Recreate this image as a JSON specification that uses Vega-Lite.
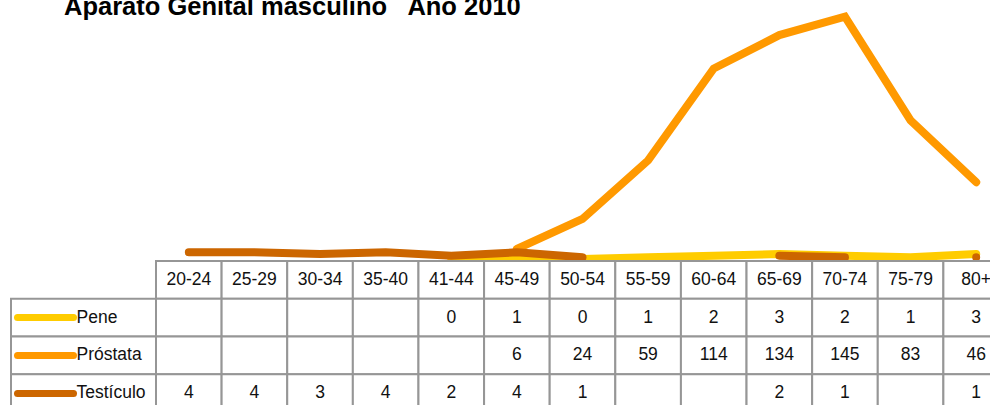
{
  "$schema": "https://vega.github.io/schema/vega-lite/v6.json",
  "padding": {"left": 10, "top": -6, "right": 0, "bottom": 0},
  "config": {"view": {"stroke": null}, "font": "Liberation Sans"},
  "title": {"text": "Aparato Genital masculino\u00a0\u00a0 Año 2010", "anchor": "start", "frame": "group", "font": "Liberation Sans", "fontSize": 25.5, "fontWeight": "bold", "color": "#000000", "dx": 53, "dy": 40, "offset": 0, "baseline": "alphabetic"},
  "datasets": {
    "cancer": [
      {"age": "20-24", "series": "Pene", "value": null},
      {"age": "25-29", "series": "Pene", "value": null},
      {"age": "30-34", "series": "Pene", "value": null},
      {"age": "35-40", "series": "Pene", "value": null},
      {"age": "41-44", "series": "Pene", "value": 0},
      {"age": "45-49", "series": "Pene", "value": 1},
      {"age": "50-54", "series": "Pene", "value": 0},
      {"age": "55-59", "series": "Pene", "value": 1},
      {"age": "60-64", "series": "Pene", "value": 2},
      {"age": "65-69", "series": "Pene", "value": 3},
      {"age": "70-74", "series": "Pene", "value": 2},
      {"age": "75-79", "series": "Pene", "value": 1},
      {"age": "80+", "series": "Pene", "value": 3},
      {"age": "20-24", "series": "Próstata", "value": null},
      {"age": "25-29", "series": "Próstata", "value": null},
      {"age": "30-34", "series": "Próstata", "value": null},
      {"age": "35-40", "series": "Próstata", "value": null},
      {"age": "41-44", "series": "Próstata", "value": null},
      {"age": "45-49", "series": "Próstata", "value": 6},
      {"age": "50-54", "series": "Próstata", "value": 24},
      {"age": "55-59", "series": "Próstata", "value": 59},
      {"age": "60-64", "series": "Próstata", "value": 114},
      {"age": "65-69", "series": "Próstata", "value": 134},
      {"age": "70-74", "series": "Próstata", "value": 145},
      {"age": "75-79", "series": "Próstata", "value": 83},
      {"age": "80+", "series": "Próstata", "value": 46},
      {"age": "20-24", "series": "Testículo", "value": 4},
      {"age": "25-29", "series": "Testículo", "value": 4},
      {"age": "30-34", "series": "Testículo", "value": 3},
      {"age": "35-40", "series": "Testículo", "value": 4},
      {"age": "41-44", "series": "Testículo", "value": 2},
      {"age": "45-49", "series": "Testículo", "value": 4},
      {"age": "50-54", "series": "Testículo", "value": 1},
      {"age": "55-59", "series": "Testículo", "value": null},
      {"age": "60-64", "series": "Testículo", "value": null},
      {"age": "65-69", "series": "Testículo", "value": 2},
      {"age": "70-74", "series": "Testículo", "value": 1},
      {"age": "75-79", "series": "Testículo", "value": null},
      {"age": "80+", "series": "Testículo", "value": 1}
    ],
    "ages": [
      {"age": "20-24"}, {"age": "25-29"}, {"age": "30-34"}, {"age": "35-40"}, {"age": "41-44"},
      {"age": "45-49"}, {"age": "50-54"}, {"age": "55-59"}, {"age": "60-64"}, {"age": "65-69"},
      {"age": "70-74"}, {"age": "75-79"}, {"age": "80+"}
    ]
  },
  "columns": 2,
  "spacing": {"row": 2, "column": 0},
  "bounds": "flush",
  "concat": [
    {
      "width": 145, "height": 259,
      "data": {"values": [{}]},
      "mark": {"type": "point", "opacity": 0},
      "encoding": {}
    },
    {
      "width": 853, "height": 259,
      "data": {"name": "cancer"},
      "mark": {"type": "line", "strokeWidth": 8, "strokeCap": "round", "strokeJoin": "miter", "invalid": "break-paths-show-domains", "clip": false},
      "encoding": {
        "x": {"field": "age", "type": "ordinal", "sort": null, "scale": {"type": "band", "paddingInner": 0, "paddingOuter": 0}, "axis": null},
        "y": {"field": "value", "type": "quantitative", "scale": {"domain": [0, 155], "nice": false, "zero": true}, "axis": null},
        "color": {"field": "series", "type": "nominal", "scale": {"domain": ["Pene", "Próstata", "Testículo"], "range": ["#FFCC00", "#FF9900", "#CC6600"]}, "legend": null}
      }
    },
    {
      "width": 145, "height": 151,
      "data": {"name": "cancer"},
      "transform": [{"aggregate": [], "groupby": ["series"]}],
      "mark": {"type": "rect", "fill": "#ffffff", "stroke": "#969696", "strokeWidth": 2},
      "encoding": {
        "y": {"field": "series", "type": "nominal", "scale": {"domain": ["header", "Pene", "Próstata", "Testículo"], "paddingInner": 0, "paddingOuter": 0},
          "axis": {"orient": "left", "offset": -62, "values": ["Pene", "Próstata", "Testículo"], "domain": false, "grid": false, "ticks": true, "tickSize": 56, "tickWidth": 7, "tickCap": "round",
            "tickColor": {"condition": [{"test": "datum.value === 'Pene'", "value": "#FFCC00"}, {"test": "datum.value === 'Próstata'", "value": "#FF9900"}], "value": "#CC6600"},
            "labelAlign": "left", "labelPadding": -59, "labelFont": "Liberation Sans", "labelFontSize": 17.5, "labelColor": "#111111", "title": null, "zindex": 1}}
      }
    },
    {
      "width": 853, "height": 151,
      "layer": [
        {
          "data": {"name": "ages"},
          "mark": {"type": "rect", "fill": "#ffffff", "stroke": "#969696", "strokeWidth": 2},
          "encoding": {
            "x": {"field": "age", "type": "ordinal", "sort": null},
            "y": {"datum": "header"}
          }
        },
        {
          "data": {"name": "cancer"},
          "mark": {"type": "rect", "fill": "#ffffff", "stroke": "#969696", "strokeWidth": 2},
          "encoding": {
            "x": {"field": "age", "type": "ordinal", "sort": null},
            "y": {"field": "series", "type": "nominal"}
          }
        },
        {
          "data": {"name": "ages"},
          "mark": {"type": "text", "font": "Liberation Sans", "fontSize": 17.5, "color": "#111111"},
          "encoding": {
            "x": {"field": "age", "type": "ordinal", "sort": null},
            "y": {"datum": "header"},
            "text": {"field": "age"}
          }
        },
        {
          "data": {"name": "cancer"},
          "transform": [{"filter": "datum.value != null"}],
          "mark": {"type": "text", "font": "Liberation Sans", "fontSize": 17.5, "color": "#111111"},
          "encoding": {
            "x": {"field": "age", "type": "ordinal", "sort": null},
            "y": {"field": "series", "type": "nominal"},
            "text": {"field": "value", "type": "quantitative"}
          }
        }
      ],
      "encoding": {
        "x": {"field": "age", "type": "ordinal", "sort": null, "scale": {"type": "band", "paddingInner": 0, "paddingOuter": 0}, "axis": null},
        "y": {"field": "series", "type": "nominal", "scale": {"domain": ["header", "Pene", "Próstata", "Testículo"], "paddingInner": 0, "paddingOuter": 0}, "axis": null}
      }
    }
  ]
}
